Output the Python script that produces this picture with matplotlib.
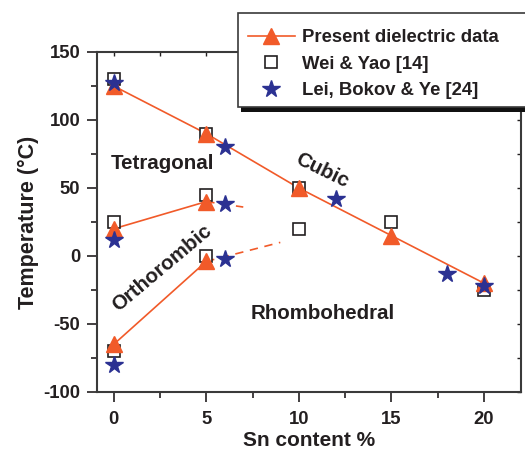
import matplotlib
matplotlib.use("Agg")
import matplotlib.pyplot as plt
from matplotlib.lines import Line2D
from matplotlib.patches import Rectangle
from matplotlib.ticker import MultipleLocator

plt.rcParams['font.family'] = ['Liberation Sans', 'DejaVu Sans']
plt.rcParams['font.weight'] = 'bold'
plt.rcParams['axes.unicode_minus'] = False

# Present dielectric data: phase transition boundaries
sn_cubic = [0, 5, 10, 15, 20]
t_cubic = [125, 90, 50, 15, -20]
sn_tetra = [0, 5]
t_tetra = [20, 40]
sn_ortho = [0, 5]
t_ortho = [-65, -4]
# extrapolated (dashed) continuations of the lower boundaries
sn_tetra_ext = [5, 7]
t_tetra_ext = [40, 36]
sn_ortho_ext = [5, 9]
t_ortho_ext = [-4, 10]

# Wei & Yao [14]
sn_wei = [0, 0, 0, 5, 5, 5, 10, 10, 15, 20]
t_wei = [130, 25, -70, 90, 45, 0, 50, 20, 25, -25]

# Lei, Bokov & Ye [24]
sn_lei = [0, 0, 0, 6, 6, 6, 12, 18, 20]
t_lei = [127, 12, -80, 80, 38, -2, 42, -13, -22]

xticks = [0, 5, 10, 15, 20]
yticks = [-100, -50, 0, 50, 100, 150]

ORANGE = '#F15A29'
NAVY = '#2B3192'
INK = '#231F20'

W, H = 525, 455
fig = plt.figure(figsize=(W / 100, H / 100), dpi=100)
ax = fig.add_axes([97 / W, (H - 392) / H, (521 - 97) / W, (392 - 52) / H])

ax.plot(sn_cubic, t_cubic, color=ORANGE, lw=1.2, zorder=2)
ax.plot(sn_tetra, t_tetra, color=ORANGE, lw=1.2, zorder=2)
ax.plot(sn_ortho, t_ortho, color=ORANGE, lw=1.2, zorder=2)
ax.plot(sn_tetra_ext, t_tetra_ext, color=ORANGE, lw=1.2, ls=(0, (5, 4)), zorder=2)
ax.plot(sn_ortho_ext, t_ortho_ext, color=ORANGE, lw=1.2, ls=(0, (5, 4)), zorder=2)

ax.plot(sn_wei, t_wei, ls='none', marker='s', ms=9, mfc='white', mec=INK, mew=1.2, zorder=3)
ax.plot(sn_cubic + sn_tetra + sn_ortho, t_cubic + t_tetra + t_ortho, ls='none',
        marker='^', ms=12, color=ORANGE, mec=ORANGE, zorder=4)
ax.plot(sn_lei, t_lei, ls='none', marker='*', ms=13, color=NAVY, mec=NAVY, zorder=5)

ax.set_xlim(-0.9, 22.0)
ax.set_ylim(-100, 150)
ax.set_xticks(xticks)
ax.set_yticks(yticks)
ax.xaxis.set_minor_locator(MultipleLocator(2.5))
ax.yaxis.set_minor_locator(MultipleLocator(25))
ax.tick_params(which='both', direction='out', colors=INK, width=1.2,
               labelsize=13.3, top=False, right=False)
ax.tick_params(which='major', length=7)
ax.tick_params(which='minor', length=4)
ax.tick_params(axis='x', pad=7)
ax.tick_params(axis='y', pad=5)
for lab in ax.get_xticklabels() + ax.get_yticklabels():
    lab.set_fontweight('bold')

# inward ticks on the top and right spines
sec_x = ax.secondary_xaxis('top')
sec_x.set_xticks(xticks, labels=[])
sec_x.xaxis.set_minor_locator(MultipleLocator(2.5))
sec_x.tick_params(which='both', direction='in', length=3, width=1, colors=INK)
sec_x.spines['top'].set_visible(False)
sec_y = ax.secondary_yaxis('right')
sec_y.set_yticks(yticks, labels=[])
sec_y.yaxis.set_minor_locator(MultipleLocator(25))
sec_y.tick_params(which='both', direction='in', length=3, width=1, colors=INK)
sec_y.spines['right'].set_visible(False)

for sp in ax.spines.values():
    sp.set_color('#3A3A3A')
    sp.set_linewidth(1.5)

ax.set_xlabel('Sn content %', fontsize=15, fontweight='bold', color=INK, labelpad=2)
ax.set_ylabel('Temperature (°C)', fontsize=15.5, fontweight='bold', color=INK, labelpad=3)

ax.text(2.65, 68, 'Tetragonal', fontsize=14.8, fontweight='bold', color=INK,
        ha='center', va='center')
ax.text(11.25, 63, 'Cubic', fontsize=14.8, fontweight='bold', color=INK,
        ha='center', va='center', rotation=-26)
ax.text(2.6, -9, 'Orthorombic', fontsize=14.8, fontweight='bold', color=INK,
        ha='center', va='center', rotation=40)
ax.text(11.3, -42, 'Rhombohedral', fontsize=14.8, fontweight='bold', color=INK,
        ha='center', va='center')

# legend box with a solid drop shadow, partly outside the axes
fig.patches.append(Rectangle((241 / W, (H - 112) / H), 0.6, 94 / H,
                             transform=fig.transFigure, fc='#111111', ec='none', zorder=3))
fig.patches.append(Rectangle((238 / W, (H - 107) / H), 0.6, 94 / H,
                             transform=fig.transFigure, fc='white', ec='#3A3A3A', lw=1.2, zorder=4))

handles = [
    Line2D([], [], color=ORANGE, lw=1.2, marker='^', ms=12, mec=ORANGE),
    Line2D([], [], ls='none', marker='s', ms=9, mfc='white', mec=INK, mew=1.2),
    Line2D([], [], ls='none', marker='*', ms=13, color=NAVY),
]
labels = ['Present dielectric data', 'Wei & Yao [14]', 'Lei, Bokov & Ye [24]']
leg = fig.legend(handles, labels, loc='upper left',
                 bbox_to_anchor=(248 / W, 1 - 29 / H), frameon=False,
                 borderpad=0, borderaxespad=0, handlelength=2.54, handletextpad=0.38,
                 labelspacing=0.52, prop={'size': 13.3, 'weight': 'bold'})
leg.set_zorder(5)
for t in leg.get_texts():
    t.set_color(INK)

fig.savefig('out.png', dpi=100)
